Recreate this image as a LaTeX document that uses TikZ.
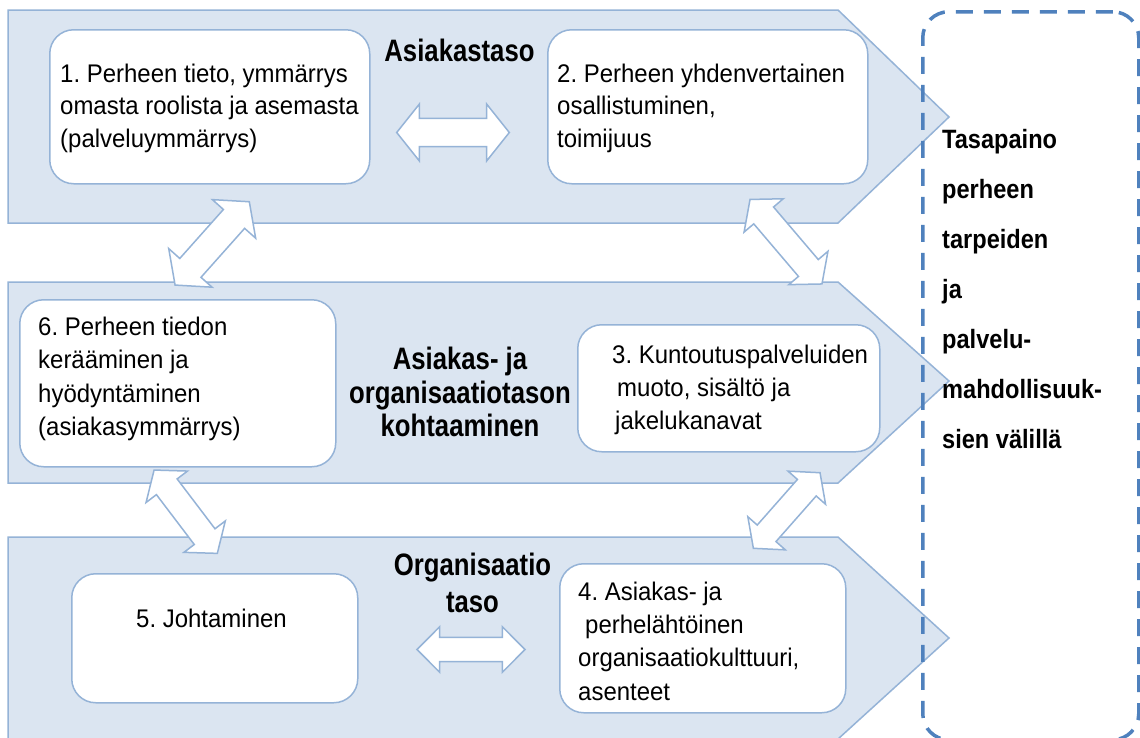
\documentclass[tikz,border=0pt]{standalone}
\usepackage{fontspec}
\setmainfont{Liberation Sans}
\newfontfamily\bodyfont{Liberation Sans}[FakeStretch=0.94]
\newfontfamily\headfont{Liberation Sans}[FakeStretch=0.83]
\newfontfamily\sidefont{Liberation Sans}[FakeStretch=0.89]
\definecolor{panelfill}{HTML}{DBE5F1}
\definecolor{panelline}{HTML}{95B3D7}
\definecolor{dashblue}{HTML}{4F81BD}
\frenchspacing
% invisible rule fixing the height of a text block's first line
\newcommand\firstline[1]{\rule{0pt}{#1pt}}

\begin{document}
\begin{tikzpicture}[x=1pt,y=-1pt,
  panel/.style={fill=panelfill,draw=panelline,line width=1.5pt,line join=miter},
  card/.style={draw=panelline,fill=white,line width=1.5pt,rounded corners=24pt,
    inner sep=0pt,anchor=north west},
  body/.style={font=\bodyfont\fontsize{25.5}{#1}\selectfont,align=left,
    inner sep=0pt,anchor=north west},
  body/.default=33,
  head/.style={font=\headfont\bfseries\fontsize{31}{#1}\selectfont,align=center,
    inner sep=0pt},
  head/.default=34,
  side/.style={font=\sidefont\bfseries\fontsize{26.5}{50}\selectfont,align=left,
    inner sep=0pt,anchor=north west},
  blockarrow/.style={draw=panelline,fill=white,line width=1.5pt,line join=miter},
  % two-headed block arrow: half length, head length, half head width, half shaft width
  pics/dblarr/.style n args={4}{code={
    \draw[blockarrow] (-#1,0) -- ({-#1+#2},#3) -- ({-#1+#2},#4) -- ({#1-#2},#4)
      -- ({#1-#2},#3) -- (#1,0) -- ({#1-#2},-#3) -- ({#1-#2},-#4)
      -- ({-#1+#2},-#4) -- ({-#1+#2},-#3) -- cycle;
  }}
]
\clip (0,0) rectangle (1140,737);
\fill[white] (0,0) rectangle (1140,737);

% the three level bands
\draw[panel] (8,10) -- (838,10) -- (949,117) -- (838,223) -- (8,223) -- cycle;
\draw[panel] (8,282) -- (838,282) -- (949,381) -- (838,483) -- (8,483) -- cycle;
\draw[panel] (8,537) -- (838,537) -- (949,638) -- (838,739) -- (8,739) -- cycle;

% boxes
\node[card,minimum width=320pt,minimum height=154pt] (b1) at (49,29) {};
\node[card,minimum width=320pt,minimum height=154pt] (b2) at (547,29) {};
\node[card,minimum width=316pt,minimum height=167pt] (b6) at (19,299) {};
\node[card,minimum width=302pt,minimum height=127pt] (b3) at (577,324) {};
\node[card,minimum width=286pt,minimum height=129pt] (b5) at (71,573) {};
\node[card,minimum width=286pt,minimum height=149pt] (b4) at (559,563) {};

% box texts
\node[body=32.5] (t1) at (60,62) {\firstline{20}1. Perheen tieto, ymmärrys\\omasta roolista ja asemasta\\(palveluymmärrys)};
\node[body=32.5] (t2) at (557,62) {\firstline{20}2. Perheen yhdenvertainen\\osallistuminen,\\toimijuus};
\node[body=33.5] (t6) at (38,315) {\firstline{20}6. Perheen tiedon\\kerääminen ja\\hyödyntäminen\\(asiakasymmärrys)};
\node[body=33] (t3) at (612,343) {\firstline{20}3. Kuntoutuspalveluiden\\\hspace*{5pt}muoto, sisältö ja\\\hspace*{3pt}jakelukanavat};
\node[body=33.3] (t4) at (578,580) {\firstline{20}4. Asiakas- ja\\\hspace*{7pt}perhelähtöinen\\organisaatiokulttuuri,\\asenteet};
\node[body,anchor=base] (t5) at (211.5,627) {5. Johtaminen};

% level titles
\node[head,anchor=base] (ta) at (459.5,61.7) {Asiakastaso};
\node[head=33.5,anchor=north] (tb) at (460,347) {\firstline{22}Asiakas- ja\\organisaatiotason\\kohtaaminen};
\node[head=37,anchor=north] (tc) at (472.5,553) {\firstline{22}Organisaatio\\taso};

% two-way links between the boxes
\pic (h1) at (453,132.5) {dblarr={56.3}{22.7}{28.5}{14.2}};
\pic[rotate=48.3] (d16) at (212.2,243.4) {dblarr={55.8}{23}{29}{14.2}};
\pic[rotate=-49.6] (d23) at (786,241.7) {dblarr={55.5}{21}{25.7}{13}};
\pic[rotate=-52.8] (d65) at (185.7,511.7) {dblarr={52.3}{21}{26}{13}};
\pic[rotate=48.6] (d34) at (786.7,510.5) {dblarr={50.4}{20}{25}{12.5}};
\pic (h2) at (471,649.5) {dblarr={54}{22.7}{22.8}{12.2}};

% balance frame and its text
\node[draw=dashblue,line width=3.5pt,dash pattern=on 17pt off 11pt,rounded corners=26pt,
  minimum width=216pt,minimum height=728pt,inner sep=0pt,anchor=north west] (frame) at (921,10) {};
\node[side] (tr) at (942,128) {\firstline{20}Tasapaino\\perheen\\tarpeiden\\ja\\palvelu-\\mahdollisuuk-\\sien välillä};
\end{tikzpicture}
\end{document}
